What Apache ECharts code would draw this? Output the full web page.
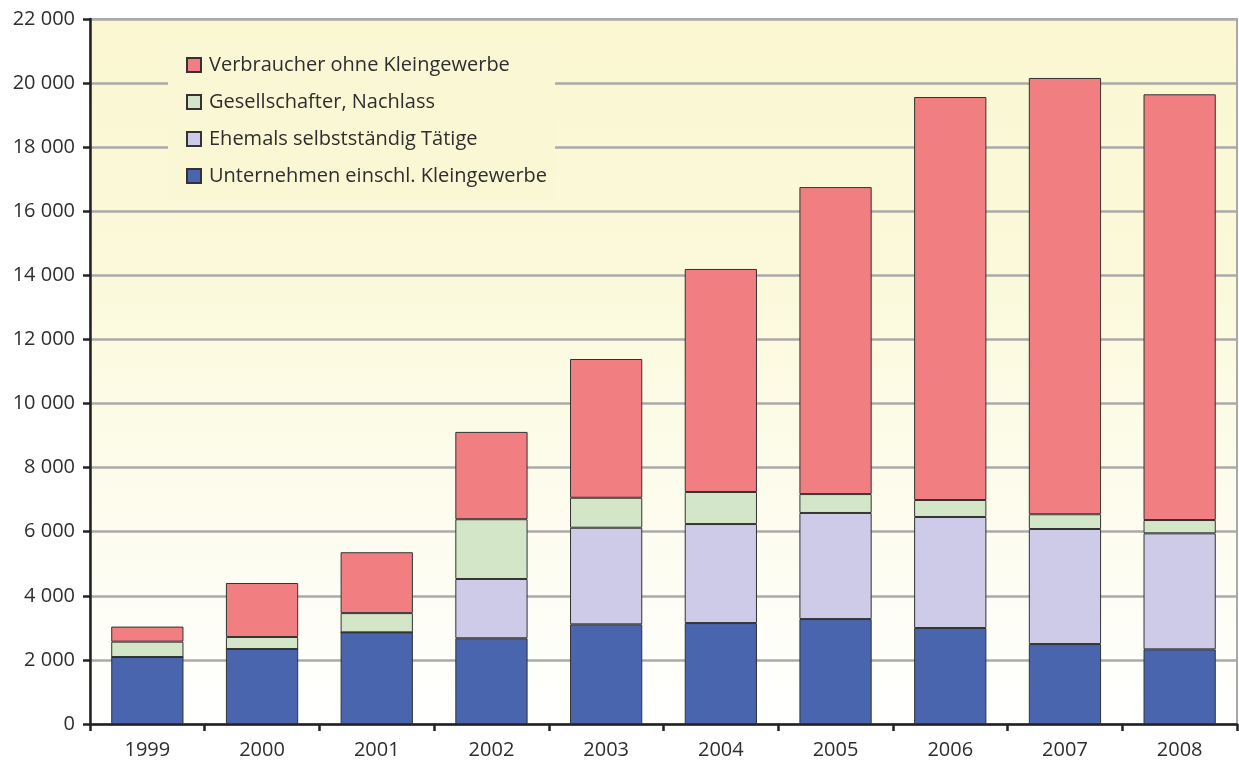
<!DOCTYPE html>
<html>
<head>
<meta charset="utf-8">
<script src="https://cdn.jsdelivr.net/npm/echarts@6/dist/echarts.min.js"></script>
<style>
  html, body { margin: 0; padding: 0; background: #fff; }
  #chart { width: 1239px; height: 767px; }
</style>
</head>
<body>
<div id="chart"></div>
<script>
const years = ['1999', '2000', '2001', '2002', '2003', '2004', '2005', '2006', '2007', '2008'];

// Anzahl der Verfahren je Gruppe
const unternehmen = [2090, 2340, 2860, 2675, 3110, 3150, 3275, 2995, 2495, 2330];
const ehemals = [0, 0, 0, 1850, 3015, 3090, 3310, 3465, 3590, 3620];
const gesellschafter = [480, 375, 600, 1865, 935, 1000, 590, 530, 460, 415];
const verbraucher = [470, 1685, 1900, 2725, 4330, 6960, 9580, 12575, 13615, 13285];

const fontFamily = '"Open Sans", "Noto Sans", sans-serif';

function fmt(v) {
    return String(v).replace(/\B(?=(\d{3})+(?!\d))/g, ' ');
}

const chart = echarts.init(document.getElementById('chart'));

const barStyle = function (color) {
    return { color: color, borderColor: '#333', borderWidth: 1 };
};

chart.setOption({
    animation: false,
    textStyle: { fontFamily: fontFamily },
    grid: {
        left: 90,
        right: 2,
        top: 19,
        bottom: 43,
        show: true,
        borderColor: '#a9a9a9',
        borderWidth: 2,
        backgroundColor: new echarts.graphic.LinearGradient(0, 0, 0, 1, [
            { offset: 0, color: '#faf7d1' },
            { offset: 0.35, color: '#fbf9da' },
            { offset: 1, color: '#ffffff' }
        ])
    },
    legend: {
        orient: 'vertical',
        left: 168,
        top: 40,
        padding: [14, 8, 12, 18],
        backgroundColor: '#faf8d4',
        itemWidth: 14,
        itemHeight: 14,
        itemGap: 15,
        icon: 'rect',
        data: ['Verbraucher ohne Kleingewerbe', 'Gesellschafter, Nachlass', 'Ehemals selbstständig Tätige', 'Unternehmen einschl. Kleingewerbe'],
        textStyle: { fontSize: 20, color: '#2e2e2e', lineHeight: 22, padding: [0, 0, 0, 3] }
    },
    xAxis: {
        type: 'category',
        data: years,
        axisLine: { lineStyle: { color: '#222', width: 2.5 } },
        axisTick: { show: true, length: 7, lineStyle: { color: '#222', width: 2.5 } },
        axisLabel: { fontSize: 20, color: '#2e2e2e', margin: 16 }
    },
    yAxis: {
        type: 'value',
        min: 0,
        max: 22000,
        interval: 2000,
        axisLine: { show: true, lineStyle: { color: '#222', width: 2.5 } },
        axisTick: { show: true, length: 7, lineStyle: { color: '#222', width: 2.5 } },
        axisLabel: { fontSize: 20, color: '#2e2e2e', margin: 15, formatter: fmt },
        splitLine: { lineStyle: { color: '#aaaaaa', width: 2.5 } }
    },
    series: [
        { name: 'Unternehmen einschl. Kleingewerbe', type: 'bar', stack: 'a', barWidth: '63%', data: unternehmen, itemStyle: barStyle('#4865ae') },
        { name: 'Ehemals selbstständig Tätige', type: 'bar', stack: 'a', data: ehemals, itemStyle: barStyle('#cdcbe7') },
        { name: 'Gesellschafter, Nachlass', type: 'bar', stack: 'a', data: gesellschafter, itemStyle: barStyle('#d3e7c8') },
        { name: 'Verbraucher ohne Kleingewerbe', type: 'bar', stack: 'a', data: verbraucher, itemStyle: barStyle('#f17f81') }
    ]
});
</script>
</body>
</html>
